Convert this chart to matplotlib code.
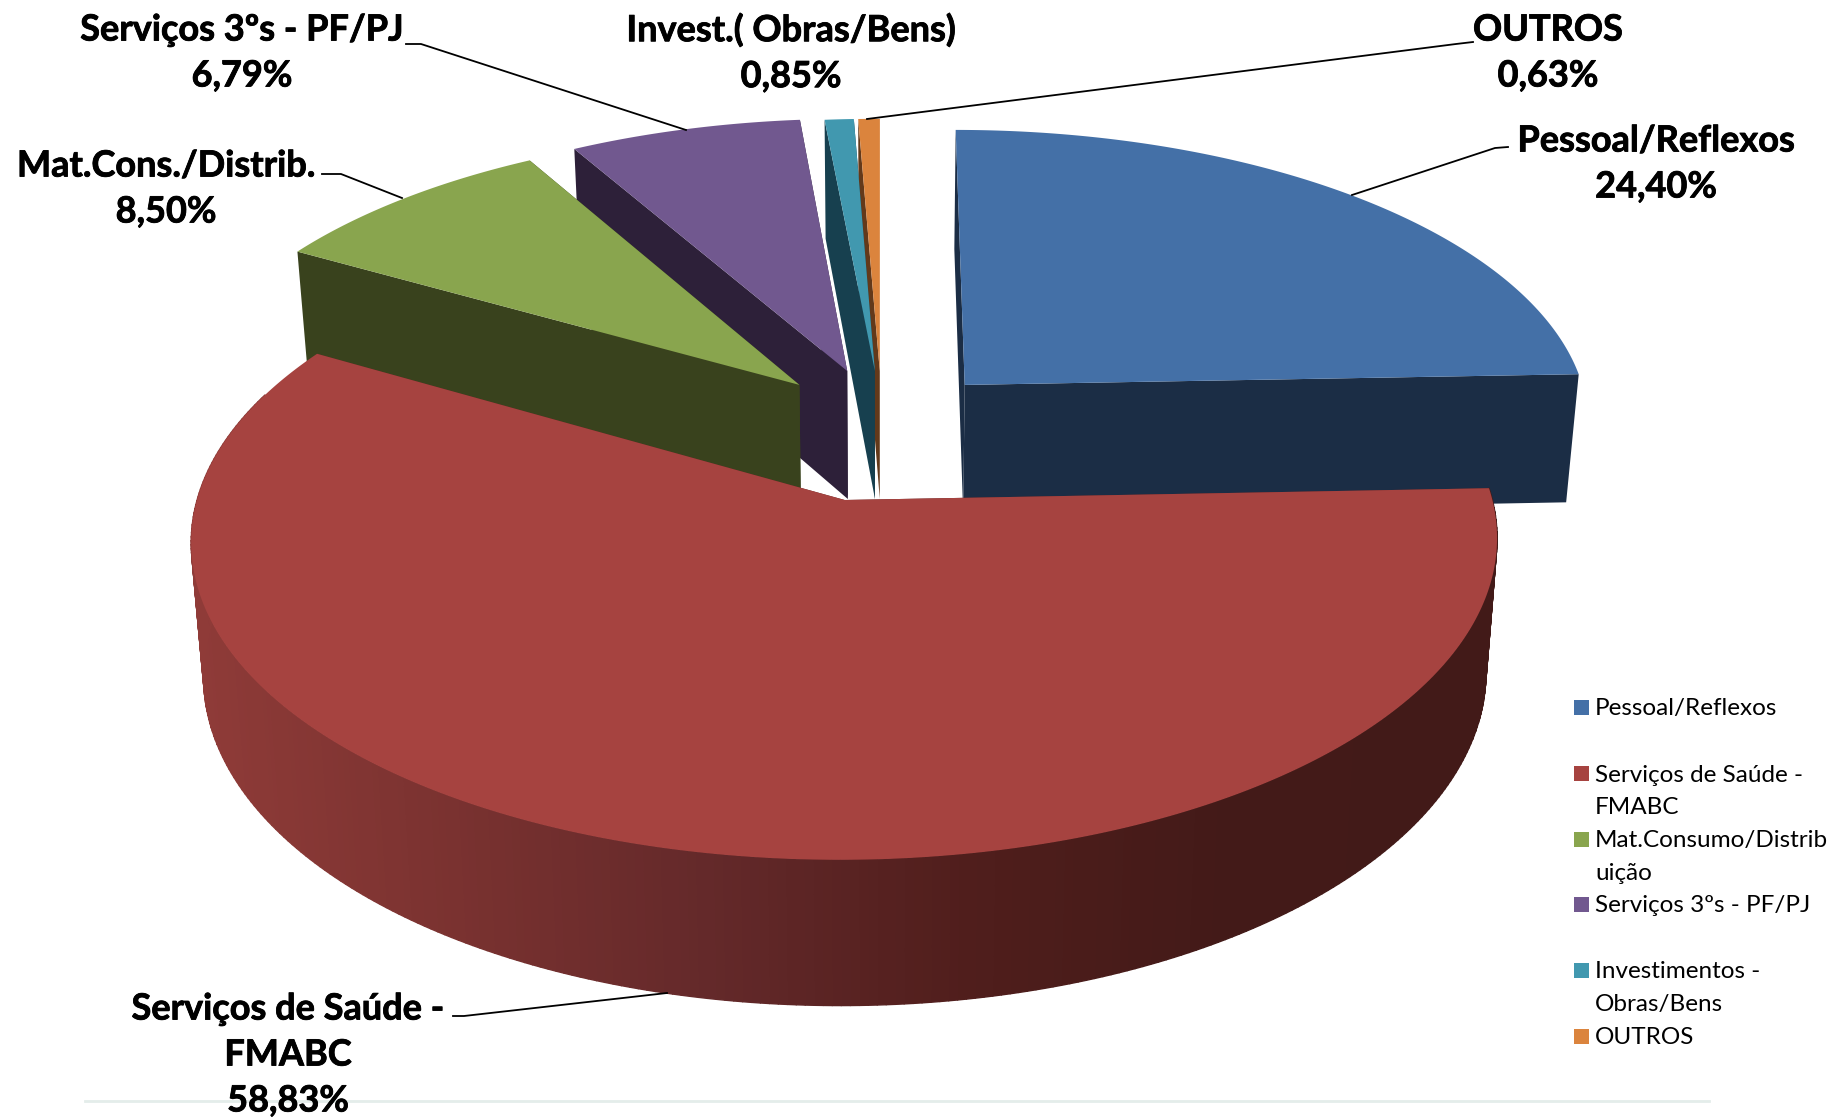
import numpy as np
import matplotlib
matplotlib.use("Agg")
import matplotlib.pyplot as plt
import matplotlib.patheffects as pe
from matplotlib.collections import PolyCollection
from matplotlib.colors import LinearSegmentedColormap

plt.rcParams['font.family'] = ['Lato', 'DejaVu Sans']

# Datos
nombres = ['Pessoal/Reflexos', 'Serviços de Saúde -\nFMABC', 'Mat.Consumo/Distrib\nuição',
           'Serviços 3ºs - PF/PJ', 'Investimentos -\nObras/Bens', 'OUTROS']
valores = [24.40, 58.83, 8.50, 6.79, 0.85, 0.63]
etiquetas = ['Pessoal/Reflexos\n24,40%', 'Serviços de Saúde -\nFMABC\n58,83%',
             'Mat.Cons./Distrib.\n8,50%', 'Serviços 3ºs - PF/PJ\n6,79%',
             'Invest.( Obras/Bens)\n0,85%', 'OUTROS\n0,63%']

# Estilo
color_top = ['#4470A7', '#A64340', '#89A54E', '#71588F', '#4198AF', '#DB843D']
color_lado = ['#1B2D45', '#5E2524', '#39421D', '#2D2039', '#17404F', '#63391A']
separacion = [(0.1355, 0.049), (-0.056, 0.433), (-0.132, 0.049), (-0.055, 0.0), (-0.01, 0.0), (-0.002, 0.0)]

# Proyeccion de la torta 3D
CX, CY = 881, 371
R, K, P = 614, 0.46, 0.12
ALTO, ESCALA = 128, 0.982


def proyectar(x, y, abajo=False):
    f = 1 / (1 - P * y)
    s = ESCALA if abajo else 1.0
    d = ALTO * f if abajo else 0.0
    return CX + s * R * x * f, CY + s * R * K * y * f + d


def arco(i, a0, a1, abajo=False, n=300):
    t = np.radians(np.linspace(a0, a1, n))
    ox, oy = separacion[i]
    return proyectar(ox + np.sin(t), oy - np.cos(t), abajo)


fig = plt.figure(figsize=(18.44, 11.19), dpi=100)
ax = fig.add_axes([0, 0, 1, 1])
ax.set_xlim(0, 1844)
ax.set_ylim(1119, 0)
ax.axis('off')

# Linea tenue de abajo
ax.plot([85, 1709], [1101, 1101], color='#E4EDEA', lw=2, zorder=1)

grad_rojo = LinearSegmentedColormap.from_list(
    'rojo', ['#8F3B38', '#7A3230', '#64292A', '#501E1C', '#431A18', '#421A18'])

angulos = np.concatenate([[0], np.cumsum(valores) * 3.6])
z = 2
for i in [5, 4, 3, 0, 2, 1]:
    a0, a1 = angulos[i], angulos[i + 1]
    ox, oy = separacion[i]
    xs, ys = arco(i, a0, a1)
    xb, yb = arco(i, a0, a1, abajo=True)
    ax_t, ay_t = proyectar(ox, oy)
    ax_b, ay_b = proyectar(ox, oy, abajo=True)

    # paredes radiales (las de atras quedan bajo la tapa)
    for k in [0, -1]:
        ax.fill([ax_t, xs[k], xb[k], ax_b], [ay_t, ys[k], yb[k], ay_b],
                color=color_lado[i], lw=0, zorder=z)
    # pared exterior, solo la torta roja se ve de frente
    if i == 1:
        ang = np.linspace(a0, a1, len(xs))
        quads = [[(xs[j], ys[j]), (xs[j + 1], ys[j + 1]), (xb[j + 1], yb[j + 1]), (xb[j], yb[j])]
                 for j in range(len(xs) - 1) if ang[j] < 290]
        pos = np.clip((np.array([q[0][0] for q in quads]) - 190) / 1300, 0, 1)
        cols = grad_rojo(pos)
        ax.add_collection(PolyCollection(quads, facecolors=cols, edgecolors=cols, linewidths=1.0, zorder=z))
    # tapa
    ax.fill(np.r_[ax_t, xs], np.r_[ay_t, ys], color=color_top[i], lw=0, zorder=z + 0.5)
    z += 1

# Lineas guia
guias = [
    ([1508, 1495, 1352], [147, 148, 195]),
    ([453, 464, 667], [1016, 1016, 993]),
    ([322, 341, 402], [174, 174, 198]),
    ([406, 421, 686], [44, 44, 130]),
    ([1473, 1456, 867], [42, 44, 119]),
]
for gx, gy in guias:
    ax.plot(gx, gy, color='black', lw=1.3, zorder=20)

# Etiquetas
pos_etiq = [(1656, 164), (288, 1055), (166, 189), (242, 53), (791, 53), (1548, 53)]
for txt, (x, y) in zip(etiquetas, pos_etiq):
    ax.text(x, y, txt, ha='center', va='center', fontsize=26, fontweight='bold',
            color='black', linespacing=1.48, zorder=21,
            path_effects=[pe.withStroke(linewidth=0.6, foreground='black')])

# Leyenda
pos_ley = [707, 773, 839, 904, 970, 1036]
for nombre, c, y in zip(nombres, color_top, pos_ley):
    ax.fill([1574, 1589, 1589, 1574], [y - 7.5, y - 7.5, y + 7.5, y + 7.5], color=c, lw=0, zorder=21)
    for j, linea in enumerate(nombre.split('\n')):
        ax.text(1595, y + 2 + j * 33, linea, ha='left', va='center', fontsize=17.5, color='black', zorder=21)

plt.savefig('out.png', dpi=100, facecolor='white')
